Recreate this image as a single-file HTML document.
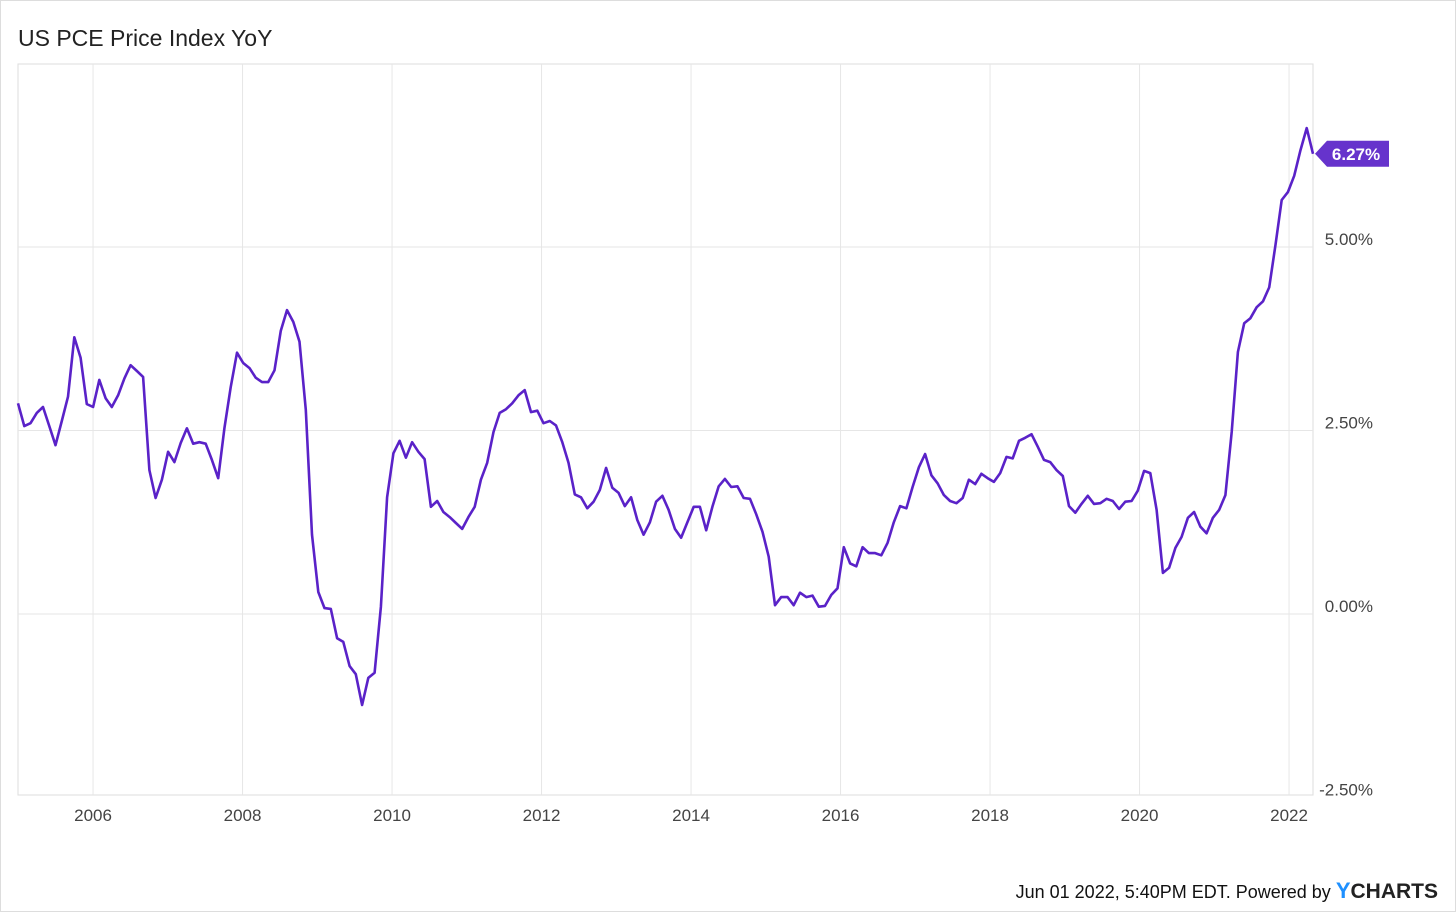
<!DOCTYPE html>
<html><head><meta charset="utf-8"><style>
html,body{margin:0;padding:0;background:#fff;}
body{width:1456px;height:912px;position:relative;overflow:hidden;font-family:"Liberation Sans",sans-serif;}
.frame{position:absolute;left:0;top:0;width:1454px;height:910px;border:1px solid #ddd;}
</style></head><body>
<div class="frame"></div>
<svg id="chart" width="1456" height="912" style="position:absolute;left:0;top:0">
<text x="18" y="46" font-size="23" fill="#222" font-family="Liberation Sans, sans-serif">US PCE Price Index YoY</text>
<g id="grid"></g><g id="series"></g><g id="labels"></g>
<text x="1438" y="898" text-anchor="end" font-size="18" fill="#111">Jun 01 2022, 5:40PM EDT. Powered by <tspan fill="#1e90ff" font-weight="bold" font-size="22">Y</tspan><tspan font-weight="bold" font-size="21" fill="#222">CHARTS</tspan></text>
</svg>
<script>
const startYear = 2005;
const xTickYears = [2006,2008,2010,2012,2014,2016,2018,2020,2022];
const yTickValues = [-2.5,0,2.5,5];
const yTickLabels = ["-2.50%","0.00%","2.50%","5.00%"];
const pceYoY = [2.87,2.56,2.60,2.74,2.82,2.56,2.30,2.63,2.96,3.77,3.49,2.86,
2.82,3.19,2.94,2.82,2.98,3.21,3.39,3.31,3.23,1.96,1.58,1.83,
2.21,2.07,2.33,2.53,2.32,2.34,2.32,2.10,1.85,2.53,3.09,3.56,
3.42,3.35,3.22,3.16,3.16,3.32,3.86,4.14,3.98,3.71,2.78,1.08,
0.30,0.08,0.07,-0.33,-0.38,-0.71,-0.82,-1.24,-0.87,-0.80,0.10,1.59,
2.19,2.36,2.13,2.34,2.21,2.11,1.46,1.54,1.39,1.32,1.24,1.16,
1.32,1.46,1.83,2.06,2.48,2.74,2.79,2.87,2.98,3.05,2.75,2.77,
2.60,2.63,2.57,2.34,2.06,1.63,1.59,1.44,1.53,1.69,1.99,1.72,
1.65,1.47,1.59,1.28,1.08,1.25,1.53,1.61,1.42,1.16,1.04,1.25,
1.46,1.46,1.14,1.46,1.74,1.84,1.73,1.74,1.58,1.57,1.36,1.12,
0.78,0.12,0.23,0.23,0.12,0.29,0.23,0.25,0.10,0.11,0.26,0.35,
0.91,0.69,0.65,0.91,0.83,0.83,0.80,0.97,1.25,1.47,1.44,1.73,
2.00,2.18,1.89,1.78,1.62,1.54,1.51,1.58,1.83,1.77,1.91,1.85,
1.80,1.92,2.14,2.12,2.36,2.40,2.45,2.28,2.10,2.07,1.96,1.88,
1.47,1.38,1.50,1.61,1.50,1.51,1.57,1.54,1.43,1.53,1.54,1.68,
1.95,1.92,1.42,0.56,0.63,0.90,1.05,1.31,1.39,1.19,1.10,1.31,
1.42,1.62,2.48,3.57,3.96,4.03,4.18,4.26,4.45,5.03,5.64,5.75,
5.97,6.32,6.62,6.27];
const lastLabel = "6.27%";

const L=18,R=1313,T=64,B=795;
const monthsSpan = pceYoY.length-1;
const pxPerMonth=(R-L)/monthsSpan;
function xMonth(i){return L+i*pxPerMonth;}
function xYear(y){return 18.3+(y-startYear)*74.75;}
function yVal(v){return 614 - v*73.4;}
const NS="http://www.w3.org/2000/svg";
function mk(tag,attrs,parent){const e=document.createElementNS(NS,tag);for(const k in attrs)e.setAttribute(k,attrs[k]);parent.appendChild(e);return e;}
const grid=document.getElementById('grid'),series=document.getElementById('series'),labels=document.getElementById('labels');
const box=mk('rect',{x:L,y:T,width:R-L,height:B-T,fill:'none',stroke:'#ddd','stroke-width':1},grid);


xTickYears.forEach(y=>{
 const x=xYear(y);
 const g=mk('line',{x1:x,x2:x,y1:T,y2:B,stroke:'#e6e6e6','stroke-width':1},grid);
 
 
 const t=mk('text',{x:x,y:821,'text-anchor':'middle','font-size':17,fill:'#444'},labels);
 t.textContent=String(y);
 
 
});
yTickValues.forEach((v,i)=>{
 const y=yVal(v);
 if(v>-2.5){
 const g=mk('line',{x1:L,x2:R,y1:y,y2:y,stroke:'#e6e6e6','stroke-width':1},grid);
 
 }
 const t=mk('text',{x:1373,y:y-2,'text-anchor':'end','font-size':17,fill:'#444'},labels);
 t.textContent=yTickLabels[i];
 
 
});
const pts=pceYoY.map((v,i)=>xMonth(i).toFixed(1)+','+yVal(v).toFixed(1)).join(' ');
const line=mk('polyline',{points:pts,fill:'none',stroke:'#5a22c8','stroke-width':2.6,'stroke-linejoin':'round'},series);


const ly=yVal(pceYoY[pceYoY.length-1]);
const badge=mk('path',{d:`M1315 ${ly} L1327 ${ly-13} L1389 ${ly-13} L1389 ${ly+13} L1327 ${ly+13} Z`,fill:'#6633cc'},labels);


const bt=mk('text',{x:1356,y:ly+6,'text-anchor':'middle','font-size':17,'font-weight':'bold',fill:'#fff'},labels);
bt.textContent=lastLabel;


</script>
</body></html>
